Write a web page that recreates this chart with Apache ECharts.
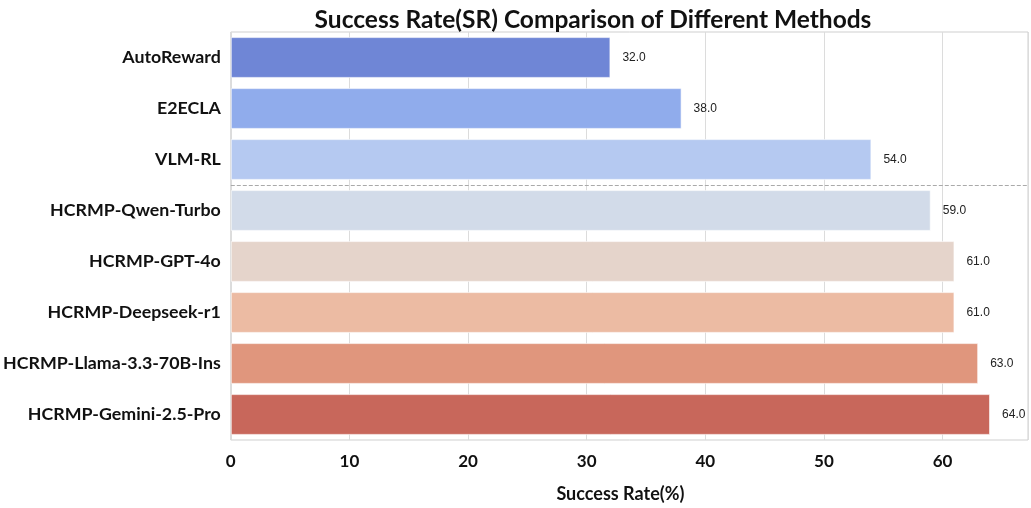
<!DOCTYPE html>
<html><head><meta charset="utf-8">
<script src="https://cdn.jsdelivr.net/npm/echarts@6/dist/echarts.min.js"></script>
<style>html,body{margin:0;padding:0;background:#fff}#c{width:1031px;height:508px}</style>
</head><body><div id="c"></div>
<script>
const categories = ['AutoReward','E2ECLA','VLM-RL','HCRMP-Qwen-Turbo','HCRMP-GPT-4o','HCRMP-Deepseek-r1','HCRMP-Llama-3.3-70B-Ins','HCRMP-Gemini-2.5-Pro'];
const values = [32.0, 38.0, 54.0, 59.0, 61.0, 61.0, 63.0, 64.0];
const colors = ['#6F86D6','#90ACEC','#B5C9F1','#D2DBE9','#E5D4CB','#ECBBA3','#E0967D','#C8675B'];
const xTicks = [0,10,20,30,40,50,60];
const dividerAfter = 3; // baselines vs HCRMP variants

const F = "Lato, sans-serif";
const chart = echarts.init(document.getElementById('c'));
chart.setOption({
  animation:false,
  title:{text:'Success Rate(SR) Comparison of Different Methods',left:588,textAlign:'center',top:3,
    textStyle:{fontFamily:F,fontWeight:'bold',fontSize:24.5,color:'#111'}},
  grid:{left:230,right:1,top:32,bottom:66,show:true,borderColor:'#cfcfcf',borderWidth:1},
  xAxis:{type:'value',min:0,max:67.2,interval:10,
    axisLine:{show:false},axisTick:{show:false},
    splitLine:{show:true,lineStyle:{color:'#dcdcdc',width:1}},
    axisLabel:{fontFamily:F,fontWeight:'bold',fontSize:17,color:'#111',margin:13,
      formatter:v=>xTicks.includes(v)?String(v):''},
    name:'Success Rate(%)',nameLocation:'middle',nameGap:45,
    nameTextStyle:{fontFamily:F,fontWeight:'bold',fontSize:18,color:'#111',padding:[0,18,0,0]}},
  yAxis:[{type:'category',data:categories,inverse:true,
    axisLine:{show:false},axisTick:{show:false},splitLine:{show:false},
    axisLabel:{fontFamily:F,fontWeight:'bold',fontSize:17.8,color:'#111',margin:10}},
    {type:'value',min:0,max:categories.length,inverse:true,show:false}],
  series:[{type:'bar',barWidth:'80%',
    data:values.map((v,i)=>({value:v,itemStyle:{color:colors[i],borderColor:'rgba(255,255,255,0.6)',borderWidth:1}})),
    label:{show:true,position:'right',distance:12,formatter:p=>p.value.toFixed(1),
      fontFamily:"'Liberation Sans', Arial, sans-serif",fontSize:12,color:'#222'}},
   {type:'scatter',yAxisIndex:1,data:[],
    markLine:{silent:true,symbol:['none','none'],label:{show:false},
      lineStyle:{type:'dashed',color:'#aaa',width:1},
      data:[{yAxis:dividerAfter}]}}]
});
</script></body></html>
